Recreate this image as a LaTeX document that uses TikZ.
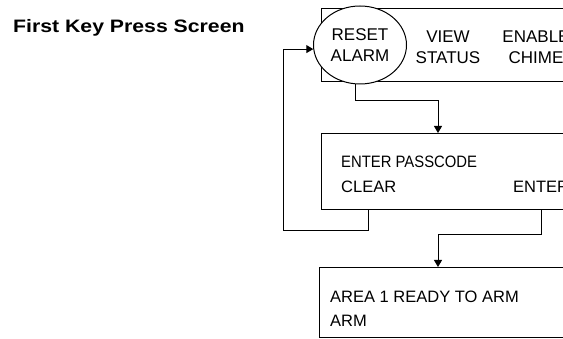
\documentclass[tikz,border=0pt]{standalone}
\usepackage{fontspec}
\setmainfont{Liberation Sans}
\usetikzlibrary{shapes.geometric}
\usetikzlibrary{arrows.meta}

\tikzset{
	screen/.style={draw,line width=1.2pt,anchor=north west,minimum width=300pt,inner sep=0pt},
	keytext/.style={font=\fontsize{17}{20.5}\selectfont,align=center,inner sep=0pt},
	lcd/.style={font=\fontsize{16.5}{19}\selectfont,anchor=base west,inner sep=0pt},
	flow/.style={line width=1pt,-{Triangle[width=8pt,length=7pt]}},
}

\begin{document}
\begin{tikzpicture}[x=1pt,y=-1pt]
	\useasboundingbox (0,0) rectangle (563,339);
	\clip (0,0) rectangle (563,339);
	\node[anchor=base west,inner sep=0pt,font=\fontsize{18}{20}\selectfont\bfseries] (title) at (13,33) {\scalebox{1.18}[1]{First Key Press Screen}};
	\node[screen,minimum height=73pt] (keyscr) at (321,8) {};
	\node[screen,minimum height=76pt] (passbox) at (321,133) {};
	\node[screen,minimum height=70pt] (armbox) at (319,267) {};
	\node[draw,ellipse,fill=white,line width=1pt,minimum width=93pt,minimum height=78pt,keytext] (reset) at (360,45) {RESET\\ALARM};
	\node[keytext] (view) at (448,47) {VIEW\\STATUS};
	\node[keytext] (chime) at (536,47) {ENABLE\\CHIME};
	\node[lcd] (passcode) at (341,168) {\scalebox{0.9}[1]{ENTER PASSCODE}};
	\node[lcd] (clear) at (341,193) {CLEAR};
	\node[lcd] (enter) at (513,193) {ENTER};
	\node[lcd] (ready) at (330,303) {AREA 1 READY TO ARM};
	\node[lcd] (arm) at (330,327) {ARM};
	\coordinate (passin) at (438,133);
	\coordinate (armin) at (438,267);
	\draw[flow] (reset.264) -- ++(0,16) -| (passin);
	\draw[flow] (clear |- passbox.south) -- ++(0,20) -- ++(-85,0) |- (reset.185);
	\draw[flow] (enter |- passbox.south) -- ++(0,24) -| (armin);
\end{tikzpicture}
\end{document}
